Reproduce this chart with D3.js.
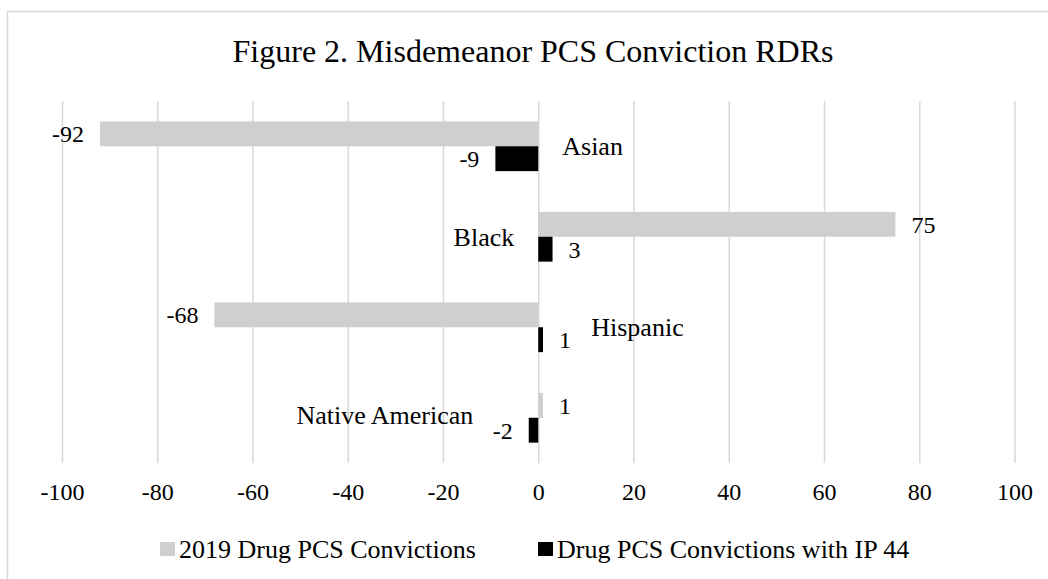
<!DOCTYPE html>
<html>
<head>
<meta charset="utf-8">
<script src="https://cdn.jsdelivr.net/npm/d3@7"></script>
<style>
	body { margin: 0; background: #fff; }
	svg { display: block; font-family: "Liberation Serif", "Times New Roman", serif; }
</style>
</head>
<body>
<svg id="chart" width="1048" height="579"></svg>
<script>
var categories = [ "Asian", "Black", "Hispanic", "Native American" ];
var seriesNames = [ "2019 Drug PCS Convictions", "Drug PCS Convictions with IP 44" ];
var convictions2019 = [ -92, 75, -68, 1 ];
var convictionsIP44 = [ -9, 3, 1, -2 ];
var tickValues = [ -100, -80, -60, -40, -20, 0, 20, 40, 60, 80, 100 ];

var colors = [ "#d0cece", "#000000" ];

var svg = d3.select("#chart");

// outer frame of the chart area (cut by the picture on right and bottom)
svg.append("rect")
	.attr("x", 7.5).attr("y", 11.5)
	.attr("width", 1100).attr("height", 700)
	.style("fill", "none").style("stroke", "#d9d9d9").style("stroke-width", 1.5);

var plotTop = 101, plotBottom = 463;
var xScale = d3.scaleLinear().domain([ -100, 100 ]).range([ 62, 1014.5 ]);
var yScale = d3.scaleBand().domain(categories).range([ plotTop, plotBottom ]).paddingInner(0.45).paddingOuter(0.225);
var ySub = d3.scaleBand().domain(seriesNames).range([ 0, yScale.bandwidth() ]);

// gridlines
var grid = svg.append("g").attr("transform", "translate(0," + plotBottom + ")")
	.call(d3.axisBottom(xScale).tickValues(tickValues).tickSize(-(plotBottom - plotTop)).tickFormat(""));
grid.select(".domain").remove();
grid.selectAll("line").style("stroke", "#d9d9d9").style("stroke-width", 1.5);

// tick labels
var axis = svg.append("g").attr("transform", "translate(0," + plotBottom + ")")
	.call(d3.axisBottom(xScale).tickValues(tickValues).tickSize(0).tickPadding(20).tickFormat(function(d) { return String(d); }));
axis.select(".domain").remove();
axis.selectAll("text").style("font-size", "24px").style("fill", "#000")
	.style("font-family", "'Liberation Serif', 'Times New Roman', serif");

var rows = categories.map(function(c, i) {
	return { category: c, values: [ convictions2019[i], convictionsIP44[i] ] };
});

var groups = svg.selectAll(".group").data(rows).enter().append("g")
	.attr("class", "group")
	.attr("transform", function(d) { return "translate(0," + yScale(d.category) + ")"; });

var bars = groups.selectAll(".bar").data(function(d) {
	return d.values.map(function(v, j) { return { series: seriesNames[j], index: j, value: v }; });
}).enter();

bars.append("rect")
	.attr("class", "bar")
	.attr("x", function(d) { return xScale(Math.min(0, d.value)); })
	.attr("y", function(d) { return ySub(d.series); })
	.attr("width", function(d) { return Math.abs(xScale(d.value) - xScale(0)); })
	.attr("height", ySub.bandwidth())
	.style("fill", function(d) { return colors[d.index]; });

bars.append("text")
	.attr("x", function(d) { return xScale(d.value) + (d.value < 0 ? -16 : 16); })
	.attr("y", function(d) { return ySub(d.series) + ySub.bandwidth() / 2; })
	.attr("dy", "0.35em")
	.attr("text-anchor", function(d) { return d.value < 0 ? "end" : "start"; })
	.style("font-size", "24px")
	.text(function(d) { return d.value; });

// category labels sit next to the zero line, opposite the 2019 bar
var labelNudge = { "Hispanic": 29, "Native American": 41 };
groups.append("text")
	.attr("x", function(d) {
		var gap = 24 + (labelNudge[d.category] || 0);
		return d.values[0] < 0 ? xScale(0) + gap : xScale(0) - gap;
	})
	.attr("y", function(d) { return yScale.bandwidth() / 2 + (d.category == "Native American" ? -3 : 0); })
	.attr("dy", "0.35em")
	.attr("text-anchor", function(d) { return d.values[0] < 0 ? "start" : "end"; })
	.style("font-size", "26px")
	.text(function(d) { return d.category; });

// title
svg.append("text")
	.attr("x", 533).attr("y", 62)
	.attr("text-anchor", "middle")
	.style("font-size", "32px")
	.text("Figure 2. Misdemeanor PCS Conviction RDRs");

// legend
var legend = svg.append("g").attr("transform", "translate(0,549)");
var legendX = [ 160, 538 ];
var items = legend.selectAll(".item").data(seriesNames).enter().append("g")
	.attr("transform", function(d, i) { return "translate(" + legendX[i] + ",0)"; });
items.append("rect")
	.attr("x", 0).attr("y", -7).attr("width", 15).attr("height", 14)
	.style("fill", function(d, i) { return colors[i]; });
items.append("text")
	.attr("x", 19).attr("y", 0).attr("dy", "0.35em")
	.style("font-size", "26px")
	.text(function(d) { return d; });
</script>
</body>
</html>
